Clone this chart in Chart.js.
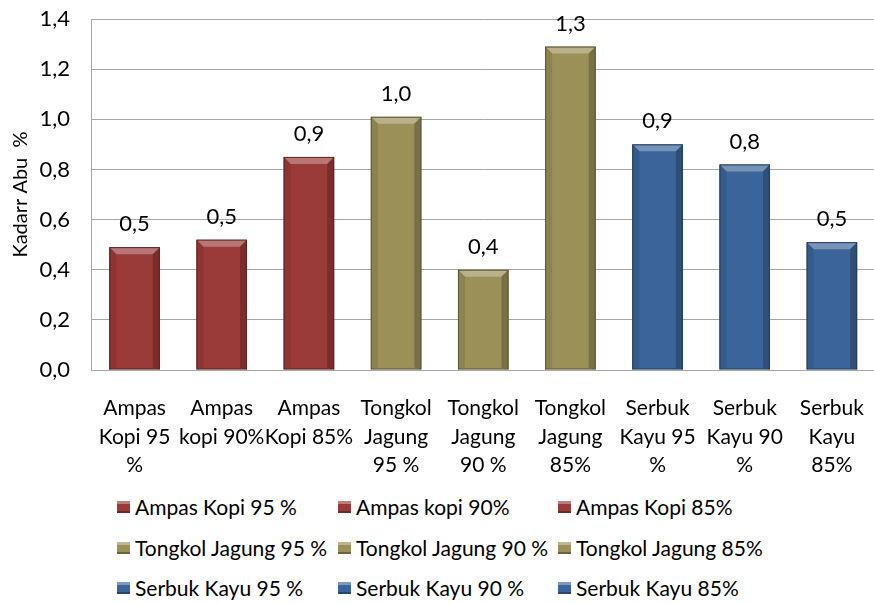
<!DOCTYPE html>
<html>
<head>
<meta charset="utf-8">
<script src="https://cdn.jsdelivr.net/npm/chart.js@4/dist/chart.umd.min.js"></script>
<style>
  body { margin: 0; background: #fff; overflow: hidden; width: 874px; height: 604px; position: relative; }
  #wrap { position: absolute; left: 0; top: 0; width: 880px; height: 480px; }
  #legend { position: absolute; left: 0; top: 0; font-family: Lato, "Open Sans", sans-serif; font-size: 21px; color: #000; }
  .item { position: absolute; white-space: nowrap; display: flex; align-items: center; height: 26px; line-height: 26px; }
  .box { width: 13px; height: 12px; margin-right: 5px; box-sizing: border-box; box-shadow: inset 0 3px 0 rgba(255,255,255,0.35), inset 0 -2px 0 rgba(0,0,0,0.3); }
</style>
</head>
<body>
<div id="wrap"><canvas id="chart"></canvas></div>
<div id="legend"></div>
<script>
// data
const categories = [
  ["Ampas", "Kopi 95", "%"],
  ["Ampas", "kopi 90%"],
  ["Ampas", "Kopi 85%"],
  ["Tongkol", "Jagung", "95 %"],
  ["Tongkol", "Jagung", "90 %"],
  ["Tongkol", "Jagung", "85%"],
  ["Serbuk", "Kayu 95", "%"],
  ["Serbuk", "Kayu 90", "%"],
  ["Serbuk", "Kayu", "85%"]
]
const seriesNames = [
  "Ampas Kopi 95 %", "Ampas kopi 90%", "Ampas Kopi 85%",
  "Tongkol Jagung 95 %", "Tongkol Jagung 90 %", "Tongkol Jagung 85%",
  "Serbuk Kayu 95 %", "Serbuk Kayu 90 %", "Serbuk Kayu 85%"
]
const values = [0.49, 0.52, 0.85, 1.01, 0.40, 1.29, 0.90, 0.82, 0.51]
const seriesColors = ["#9B3B39", "#9B3B39", "#9B3B39", "#9A9058", "#9A9058", "#9A9058", "#3B659A", "#3B659A", "#3B659A"]
const yTicks = [0, 0.2, 0.4, 0.6, 0.8, 1.0, 1.2, 1.4]
const yTitle = "Kadarr Abu  %"

// excel style rounding, 0,85 -> 0,9
const fmt = v => (Math.round(v * 10 + 1e-9) / 10).toFixed(1).replace(".", ",")
const FONT = "Lato, 'Open Sans', sans-serif"

function shade(hex, amt) {
  const n = parseInt(hex.slice(1), 16)
  let r = (n >> 16) & 255, g = (n >> 8) & 255, b = n & 255
  const f = c => Math.max(0, Math.min(255, Math.round(amt > 0 ? c + (255 - c) * amt : c * (1 + amt))))
  return `rgb(${f(r)},${f(g)},${f(b)})`
}

const datasets = seriesNames.map((name, i) => ({
  label: name,
  data: values.map((v, j) => j === i ? v : null),
  backgroundColor: seriesColors[i],
  borderColor: shade(seriesColors[i], -0.35),
  borderWidth: 1,
  grouped: false,
  categoryPercentage: 1,
  barPercentage: 0.58
}))

// bevel look like the excel bars
const bevel = {
  id: "bevel",
  afterDatasetsDraw(chart) {
    const ctx = chart.ctx
    chart.data.datasets.forEach((ds, i) => {
      chart.getDatasetMeta(i).data.forEach((el, j) => {
        if (ds.data[j] == null) return
        const p = el.getProps(["x", "y", "base", "width"], true)
        const l = p.x - p.width / 2, r = p.x + p.width / 2, t = p.y, bt = p.base, b = 7
        const c = seriesColors[i]
        ctx.save()
        ctx.fillStyle = shade(c, 0.3)
        ctx.beginPath(); ctx.moveTo(l, t); ctx.lineTo(r, t); ctx.lineTo(r - b, t + b); ctx.lineTo(l + b, t + b); ctx.closePath(); ctx.fill()
        ctx.fillStyle = shade(c, -0.1)
        ctx.beginPath(); ctx.moveTo(l, t); ctx.lineTo(l + b, t + b); ctx.lineTo(l + b, bt - 2); ctx.lineTo(l, bt); ctx.closePath(); ctx.fill()
        ctx.fillStyle = shade(c, -0.22)
        ctx.beginPath(); ctx.moveTo(r, t); ctx.lineTo(r - b, t + b); ctx.lineTo(r - b, bt - 2); ctx.lineTo(r, bt); ctx.closePath(); ctx.fill()
        ctx.strokeStyle = shade(c, -0.4); ctx.lineWidth = 1
        ctx.strokeRect(l + 0.5, t + 0.5, p.width - 1, bt - t - 1)
        ctx.restore()
      })
    })
  }
}

// value labels above bars
const valueLabels = {
  id: "valueLabels",
  afterDraw(chart) {
    const ctx = chart.ctx
    ctx.save()
    ctx.font = `22px ${FONT}`
    ctx.fillStyle = "#000"
    ctx.textAlign = "center"
    ctx.textBaseline = "middle"
    chart.data.datasets.forEach((ds, i) => {
      chart.getDatasetMeta(i).data.forEach((el, j) => {
        if (ds.data[j] == null) return
        ctx.fillText(fmt(ds.data[j]), el.x, el.y - 23)
      })
    })
    ctx.restore()
  }
}

const chart = new Chart(document.getElementById("chart"), {
  type: "bar",
  data: { labels: categories, datasets: datasets },
  options: {
    responsive: true,
    maintainAspectRatio: false,
    animation: false,
    layout: { padding: { top: 0, right: 0, left: 9, bottom: 0 } },
    plugins: { legend: { display: false }, tooltip: { enabled: false } },
    scales: {
      x: {
        grid: { display: false },
        border: { color: "#A6A6A6" },
        ticks: { color: "#000", font: { family: FONT, size: 21, lineHeight: 1.36 }, maxRotation: 0, autoSkip: false, padding: 16 },
        afterFit: s => { s.height = 110 }
      },
      y: {
        min: 0, max: 1.4,
        afterBuildTicks: s => { s.ticks = yTicks.map(v => ({ value: v })) },
        grid: { color: "#A6A6A6", drawTicks: false },
        border: { color: "#A6A6A6" },
        ticks: { color: "#000", font: { family: FONT, size: 22 }, padding: 21, callback: v => fmt(v) },
        title: { display: true, text: yTitle, color: "#000", font: { family: FONT, size: 20 }, padding: 0 },
        afterFit: s => { s.width = 82; s.paddingTop = 19; s.paddingBottom = 0 }
      }
    }
  },
  plugins: [bevel, valueLabels]
})

// legend, 3 per row like the original
const legend = document.getElementById("legend")
const colX = [117, 338, 558]
const rowY = [494, 535, 575]
seriesNames.forEach((name, i) => {
  const d = document.createElement("div")
  d.className = "item"
  d.style.left = colX[i % 3] + "px"
  d.style.top = rowY[Math.floor(i / 3)] + "px"
  const box = document.createElement("span")
  box.className = "box"
  box.style.background = seriesColors[i]
  d.appendChild(box)
  d.appendChild(document.createTextNode(name))
  legend.appendChild(d)
})
</script>
</body>
</html>
